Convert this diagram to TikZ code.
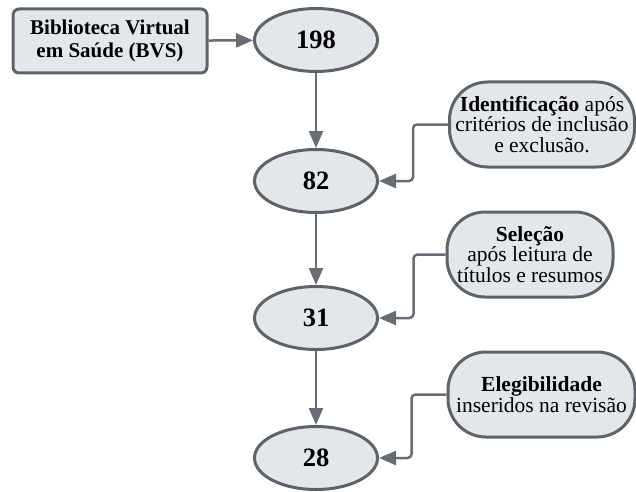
\documentclass[tikz,border=0pt]{standalone}
\usepackage{fontspec}
\setmainfont{Liberation Serif}
\usetikzlibrary{arrows.meta,positioning}
\definecolor{fundo}{HTML}{E3E6EB}
\definecolor{borda}{HTML}{606269}
\definecolor{cinza}{HTML}{6A6C73}
\tikzset{
  caixa/.style={draw=borda, line width=3pt, fill=fundo, rounded corners=6pt,
    minimum width=194pt, minimum height=64pt, align=center,
    font=\fontsize{21}{23}\selectfont\bfseries},
  elipse/.style={draw=borda, line width=3pt, fill=fundo, ellipse,
    minimum width=123pt, minimum height=63pt, inner sep=0pt,
    font=\fontsize{26.5}{28}\selectfont\bfseries},
  pilula/.style={draw=borda, line width=3pt, fill=fundo, rounded corners=38pt,
    minimum height=85pt, inner sep=1pt, align=center,
    font=\fontsize{21.5}{20.5}\selectfont},
  seta/.style={draw=cinza, line width=2.5pt, rounded corners=4pt,
    -{Triangle[length=17pt,width=14pt]}}
}
\usetikzlibrary{shapes.geometric}
\begin{document}
\begin{tikzpicture}[x=1pt,y=1pt]
  \useasboundingbox (0,0) rectangle (636,491);
  % Base de dados
  \node[caixa] (bvs) at (110,450) {Biblioteca Virtual\\em Saúde (BVS)};
  % Contagens
  \node[elipse] (n198) at (316,451) {198};
  \node[elipse] (n82) at (316,310) {82};
  \node[elipse] (n31) at (316,173) {31};
  \node[elipse] (n28) at (316,33) {28};
  % Etapas
  \node[pilula, minimum width=185pt] (ident) at (542,366.5)
    {\textbf{Identificação} após\\critérios de inclusão\\e exclusão.};
  \node[pilula, minimum width=166pt] (selecao) at (530,236.5)
    {\textbf{Seleção}\\após leitura de\\títulos e resumos};
  \node[pilula, minimum width=187pt] (eleg) at (541.5,96.5)
    {\textbf{Elegibilidade}\\inseridos na revisão};
  % Setas
  \draw[seta] (bvs) -- (n198);
  \draw[seta] (n198) -- (n82);
  \draw[seta] (n82) -- (n31);
  \draw[seta] (n31) -- (n28);
  \draw[seta] (ident.west) -- ++(-35,0) |- (n82.east);
  \draw[seta] (selecao.west) -- ++(-32,0) |- (n31.east);
  \draw[seta] (eleg.west) -- ++(-35,0) |- (n28.east);
\end{tikzpicture}
\end{document}
